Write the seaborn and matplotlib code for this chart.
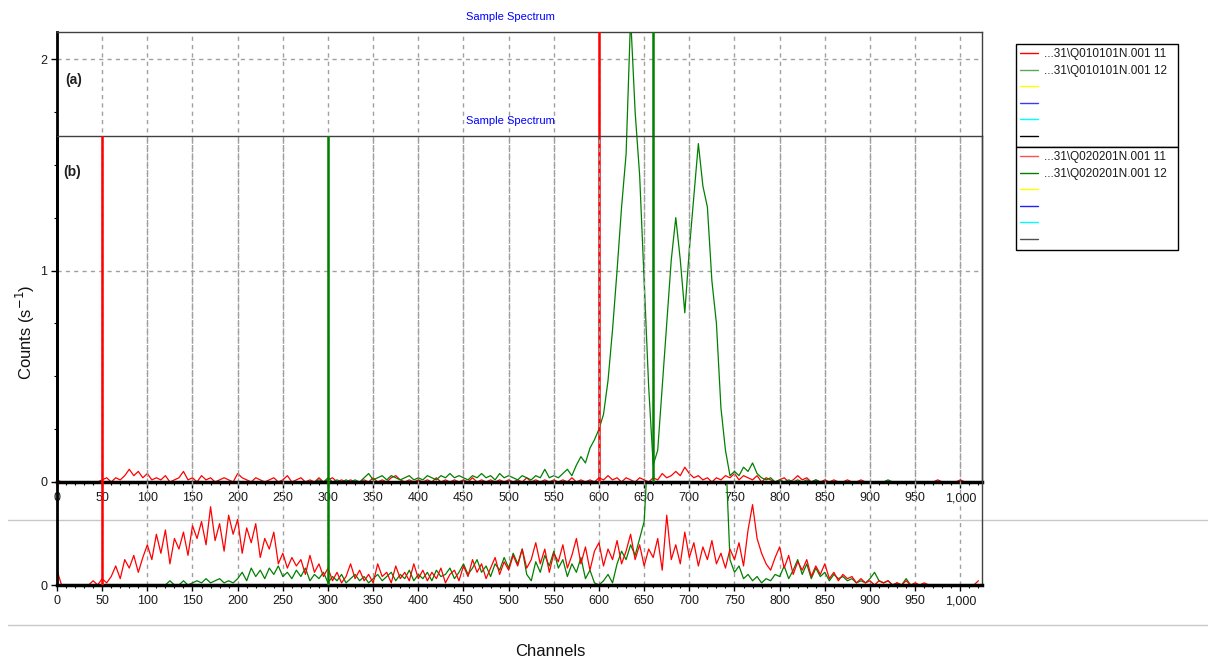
import numpy as np
import pandas as pd
import matplotlib
matplotlib.use("Agg")
import matplotlib.pyplot as plt
import seaborn as sns
from matplotlib.lines import Line2D
from matplotlib.transforms import Bbox, TransformedBbox
from matplotlib.ticker import MultipleLocator

# ---------------- data (channel step 5, channels 0..1020) ----------------
channels = np.arange(0, 1021, 5)

# panel (a): ...31\Q010101N.001 11 (red) and 12 (green)
a_red = ([0.01, 0, 0, 0, 0, 0, 0, 0, 0, 0, 0.01, 0.02, 0, 0.02, 0.01, 0.03, 0.06, 0.03, 0.05, 0.02]
         + [0.04, 0.01, 0.02, 0.01, 0.03, 0, 0.01, 0.02, 0.05, 0.01, 0.02, 0, 0.03, 0.01, 0.02, 0, 0.01, 0.02, 0.01, 0]
         + [0.04, 0.02, 0.01, 0, 0.02, 0.01, 0, 0.01, 0.02, 0, 0.01, 0.03, 0, 0.01, 0.02, 0, 0.01, 0, 0.02, 0]
         + [0.01, 0.02, 0, 0.01, 0, 0.01, 0, 0, 0.01, 0, 0.02, 0, 0.01, 0, 0.02, 0.03, 0.01, 0, 0.01, 0]
         + [0.01, 0, 0.01, 0, 0.02, 0, 0.01, 0, 0.01, 0, 0.01, 0, 0.02, 0, 0.01, 0, 0.01, 0, 0.01, 0]
         + [0.01, 0, 0.01, 0, 0.02, 0, 0.01, 0, 0.01, 0, 0.01, 0, 0.01, 0, 0.02, 0, 0.01, 0, 0.01, 0]
         + [0.02, 0.01, 0.03, 0.01, 0.02, 0, 0.02, 0.01, 0, 0.02, 0.01, 0, 0.02, 0.01, 0.04, 0.02, 0.03, 0.05, 0.03, 0.07]
         + [0.04, 0.02, 0.03, 0.01, 0.02, 0, 0.02, 0.01, 0.03, 0.02, 0.04, 0.01, 0.03, 0.02, 0.01, 0.03, 0, 0.02, 0.01, 0]
         + [0.01, 0.02, 0, 0.01, 0.03, 0.01, 0.02, 0, 0.01, 0, 0.01, 0, 0.01, 0, 0, 0.01, 0, 0, 0.01, 0]
         + [0, 0, 0, 0, 0, 0, 0, 0, 0, 0, 0, 0, 0, 0, 0, 0.01, 0, 0, 0, 0]
         + [0.01, 0, 0, 0, 0])

a_green = ([0] * 20
           + [0] * 20
           + [0] * 18 + [0.01, 0]
           + [0.02, 0, 0.01, 0, 0.01, 0, 0.01, 0, 0.02, 0.04, 0.01, 0.02, 0.03, 0.01, 0.03, 0.02, 0.01, 0.02, 0.03, 0.01]
           + [0.02, 0.01, 0.03, 0.02, 0.01, 0.03, 0.02, 0.04, 0.02, 0.03, 0.02, 0.01, 0.03, 0.02, 0.04, 0.02, 0.03, 0.01, 0.04, 0.02]
           + [0.03, 0.02, 0.01, 0.03, 0.02, 0.01, 0.03, 0.02, 0.06, 0.02, 0.03, 0.02, 0.04, 0.06, 0.03, 0.08, 0.12, 0.09, 0.16, 0.20]
           + [0.25, 0.32, 0.48, 0.72, 1.00, 1.30, 1.55, 2.20, 1.75, 1.45, 0.95, 0.45, 0.08, 0.15, 0.45, 0.75, 1.05, 1.25, 1.05, 0.80]
           + [1.10, 1.35, 1.60, 1.40, 1.30, 0.95, 0.75, 0.35, 0.15, 0.03, 0.05, 0.03, 0.07, 0.05, 0.09, 0.04, 0.02, 0.01, 0.02, 0]
           + [0.01, 0, 0.01, 0, 0.01, 0, 0.01, 0, 0.01, 0, 0, 0, 0, 0, 0, 0, 0, 0, 0, 0]
           + [0, 0, 0, 0, 0.01] + [0] * 15
           + [0] * 5)

# panel (b): ...31\Q020201N.001 11 (red) and 12 (green)
b_red = ([0.07, 0, 0, 0, 0, 0, 0, 0, 0.02, 0, 0.03, 0.01, 0.04, 0.09, 0.03, 0.12, 0.08, 0.14, 0.06, 0.13]
         + [0.19, 0.12, 0.24, 0.15, 0.26, 0.10, 0.22, 0.17, 0.25, 0.14, 0.28, 0.22, 0.30, 0.19, 0.37, 0.21, 0.29, 0.16, 0.33, 0.24]
         + [0.31, 0.15, 0.27, 0.20, 0.29, 0.13, 0.22, 0.17, 0.25, 0.10, 0.15, 0.08, 0.13, 0.09, 0.12, 0.05, 0.14, 0.06, 0.10, 0.04]
         + [0.08, 0.02, 0.06, 0.01, 0.04, 0.10, 0.03, 0.07, 0.02, 0.05, 0.01, 0.10, 0.04, 0.06, 0.01, 0.09, 0.03, 0.06, 0.02, 0.10]
         + [0.03, 0.07, 0.02, 0.06, 0.03, 0.08, 0.01, 0.05, 0.07, 0.02, 0.09, 0.04, 0.12, 0.06, 0.10, 0.03, 0.08, 0.13, 0.05, 0.11]
         + [0.07, 0.14, 0.09, 0.17, 0.08, 0.12, 0.20, 0.10, 0.17, 0.06, 0.15, 0.11, 0.19, 0.08, 0.14, 0.22, 0.10, 0.18, 0.07, 0.16]
         + [0.20, 0.09, 0.17, 0.12, 0.21, 0.10, 0.16, 0.24, 0.12, 0.19, 0.09, 0.17, 0.13, 0.22, 0.07, 0.33, 0.12, 0.19, 0.10, 0.25]
         + [0.13, 0.20, 0.09, 0.18, 0.12, 0.21, 0.10, 0.15, 0.08, 0.17, 0.12, 0.20, 0.09, 0.26, 0.38, 0.22, 0.15, 0.10, 0.07, 0.13]
         + [0.18, 0.08, 0.14, 0.05, 0.11, 0.07, 0.12, 0.04, 0.09, 0.05, 0.10, 0.03, 0.06, 0.02, 0.05, 0.03, 0.04, 0.01, 0.03, 0.01]
         + [0.02, 0, 0.02, 0.01, 0.02, 0, 0.01, 0, 0.02, 0, 0.01, 0, 0.01, 0, 0, 0, 0, 0, 0, 0]
         + [0, 0, 0, 0, 0.02])

b_green = ([0] * 20
           + [0, 0, 0, 0, 0, 0.02, 0, 0, 0.02, 0, 0.01, 0.02, 0.01, 0.03, 0.01, 0.02, 0.03, 0.01, 0.02, 0.01]
           + [0.03, 0.06, 0.02, 0.08, 0.04, 0.07, 0.03, 0.08, 0.05, 0.09, 0.04, 0.06, 0.03, 0.07, 0.04, 0.08, 0.02, 0.05, 0.03, 0.06]
           + [0.01, 0.04, 0.02, 0.05, 0.01, 0.03, 0.05, 0.02, 0.04, 0.01, 0.03, 0.05, 0.02, 0.04, 0.06, 0.02, 0.05, 0.03, 0.07, 0.02]
           + [0.05, 0.03, 0.06, 0.02, 0.07, 0.04, 0.05, 0.08, 0.03, 0.06, 0.10, 0.05, 0.08, 0.12, 0.06, 0.09, 0.04, 0.10, 0.07, 0.13]
           + [0.08, 0.15, 0.10, 0.17, 0.05, 0.02, 0.11, 0.06, 0.14, 0.09, 0.16, 0.08, 0.12, 0.04, 0.10, 0.06, 0.13, 0.03, 0.07, 0.01]
           + [0.0, 0.02, 0.05, 0.01, 0.10, 0.16, 0.12, 0.19, 0.14, 0.22, 0.30, 0.70, 1.2, 1.4, 1.6, 1.8, 1.9, 2.0, 1.9, 1.8]
           + [1.7, 1.6, 1.5, 1.4, 1.2, 1.0, 0.9, 0.8, 0.65, 0.12, 0.06, 0.09, 0.03, 0.05, 0.02, 0.04, 0.01, 0.03, 0.02, 0.05]
           + [0.04, 0.09, 0.03, 0.07, 0.12, 0.05, 0.10, 0.03, 0.08, 0.04, 0.06, 0.02, 0.05, 0.03, 0.04, 0.02, 0.03, 0.01, 0.02, 0.01]
           + [0.03, 0.06, 0.02, 0.01, 0.02, 0, 0.01, 0, 0.03, 0, 0, 0, 0, 0, 0, 0, 0, 0, 0, 0]
           + [0, 0, 0, 0, 0])

# region markers (channels)
a_markers = [(600, "#ff0000"), (660, "#008000")]
b_markers = [(50, "#ff0000"), (300, "#008000")]

x_ticks = list(range(0, 1001, 50))
x_ticklabels = [f"{v:,}" for v in x_ticks]

legend_a = ["...31\\Q010101N.001 11", "...31\\Q010101N.001 12", "", "", "", ""]
legend_b = ["...31\\Q020201N.001 11", "...31\\Q020201N.001 12", "", "", "", ""]

# ---------------- figure ----------------
sns.set_theme(style="white")
plt.rcParams["font.family"] = ["Liberation Sans", "DejaVu Sans"]

W, H = 1208, 661
fig = plt.figure(figsize=(W / 100, H / 100), dpi=100)
fig.patch.set_facecolor("white")


def rect(l, t, r, b):
    return [l / W, 1 - b / H, (r - l) / W, (b - t) / H]


def fy(py):
    return 1 - py / H


PX_PER_UNIT = 211.5

# separator lines (behind everything)
for py in (520, 625):
    fig.add_artist(Line2D([8 / W, 1.0], [fy(py), fy(py)], transform=fig.transFigure,
                          color="#c8c8c8", lw=1, zorder=-5))

ax_a = fig.add_axes(rect(57, 32, 982, 482))
ax_b = fig.add_axes(rect(57, 136, 982, 585))
ax_b.set_facecolor("none")


def style(ax, ymax, yticks, minor_y=None, ygrid=False):
    ax.set_xlim(0, 1024)
    ax.set_ylim(0, ymax)
    ax.set_xticks(x_ticks)
    ax.set_xticklabels(x_ticklabels)
    ax.xaxis.set_minor_locator(MultipleLocator(10))
    ax.set_yticks(yticks)
    ax.set_yticklabels([str(v) for v in yticks])
    if minor_y:
        ax.yaxis.set_minor_locator(MultipleLocator(minor_y))
    ax.tick_params(which="both", bottom=True, left=True, top=False, right=False,
                   direction="out", color="black")
    ax.tick_params(which="major", length=4, width=1, labelsize=9,
                   labelcolor="#1a1a1a", pad=3.5)
    ax.tick_params(axis="y", which="major", pad=3)
    ax.tick_params(which="minor", length=2.5, width=0.8)
    ax.grid(False)
    ax.grid(axis="x", which="major", linestyle=(0, (3, 3)), color="#a0a0a0", linewidth=1)
    if ygrid:
        ax.grid(axis="y", which="major", linestyle=(0, (3, 3)), color="#a0a0a0", linewidth=1)
    ax.set_xlabel("")
    ax.set_ylabel("")
    ax.spines["left"].set_linewidth(2)
    ax.spines["left"].set_color("black")
    ax.spines["bottom"].set_linewidth(2.5)
    ax.spines["bottom"].set_color("black")
    for s in ("top", "right"):
        ax.spines[s].set_linewidth(1)
        ax.spines[s].set_color("#404040")
        ax.spines[s].set_visible(True)


LW = 0.9

# panel (a)
df_a = pd.DataFrame({"channel": channels, "red": a_red, "green": a_green})
sns.lineplot(data=df_a, x="channel", y="red", ax=ax_a, color="#ff0000", lw=LW, legend=False)
sns.lineplot(data=df_a, x="channel", y="green", ax=ax_a, color="#008000", lw=LW, legend=False)
for ch, c in a_markers:
    ax_a.axvline(ch, color=c, lw=1.8, zorder=3)
style(ax_a, 450 / PX_PER_UNIT, [0, 1, 2], minor_y=0.25, ygrid=True)

# panel (b)
df_b = pd.DataFrame({"channel": channels, "red": b_red, "green": b_green})
n0 = len(ax_b.lines)
sns.lineplot(data=df_b, x="channel", y="green", ax=ax_b, color="#008000", lw=LW, legend=False)
sns.lineplot(data=df_b, x="channel", y="red", ax=ax_b, color="#ff0000", lw=LW, legend=False)
clip = TransformedBbox(Bbox([[57 / W, fy(592)], [982 / W, fy(484)]]), fig.transFigure)
for ln in ax_b.lines[n0:]:
    ln.set_clip_box(clip)
for ch, c in b_markers:
    ax_b.axvline(ch, color=c, lw=1.8, zorder=3)
style(ax_b, 449 / PX_PER_UNIT, [0])

# titles and panel tags
for py in (17, 121):
    fig.text(510 / W, fy(py), "Sample Spectrum", color="#0000ff", fontsize=8,
             ha="center", va="center")
fig.text(65 / W, fy(80), "(a)", fontsize=10, fontweight="bold", color="#202020",
         ha="left", va="center")
fig.text(63 / W, fy(172), "(b)", fontsize=10, fontweight="bold", color="#202020",
         ha="left", va="center")

# axis labels
fig.text(25 / W, fy(332), "Counts (s$^{-1}$)", rotation=90, fontsize=12,
         ha="center", va="center", color="#111111")
fig.text(550 / W, fy(651), "Channels", fontsize=12, ha="center", va="center",
         color="#111111")

# legends
cols_a = ["#ff0000", "#5aaa5a", "#ffff00", "#3a3aff", "#00ffff", "#000000"]
cols_b = ["#ff5050", "#008000", "#ffff00", "#2020ff", "#00ffff", "#505050"]
for labels, cols, top, bot in ((legend_a, cols_a, 44, 147), (legend_b, cols_b, 147, 252)):
    handles = [Line2D([], [], color=c, lw=1) for c in cols]
    leg = fig.legend(handles, labels, loc="upper left",
                     bbox_to_anchor=(1016 / W, fy(bot), 162 / W, (bot - top) / H),
                     mode="expand", borderaxespad=0, frameon=True, fancybox=False,
                     framealpha=1, fontsize=8.5, handlelength=1.5, handletextpad=0.5,
                     labelspacing=0.39, borderpad=0.35)
    leg.get_frame().set_edgecolor("black")
    leg.get_frame().set_linewidth(1)
    for t in leg.get_texts():
        t.set_color("#1a1a1a")

fig.savefig("out.png", dpi=100, facecolor="white")
